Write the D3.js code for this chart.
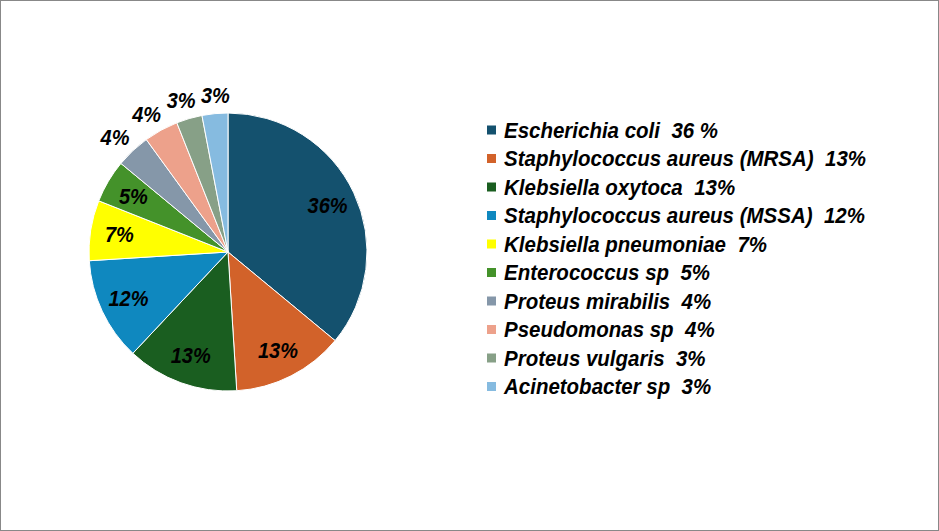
<!DOCTYPE html>
<html><head><meta charset="utf-8">
<script src="https://cdn.jsdelivr.net/npm/d3@7"></script>
<style>
html,body{margin:0;padding:0;background:#fff;}
svg{display:block;font-family:"Liberation Sans",Arial,sans-serif;}
text{white-space:pre;}
</style></head>
<body>
<svg id="chart" width="939" height="531"></svg>
<script>
const categories = ["Escherichia coli","Staphylococcus aureus (MRSA)","Klebsiella oxytoca","Staphylococcus aureus (MSSA)","Klebsiella pneumoniae","Enterococcus sp","Proteus mirabilis","Pseudomonas sp","Proteus vulgaris","Acinetobacter sp"];
const values = [36,13,13,12,7,5,4,4,3,3];
const legendLabels = ["Escherichia coli  36 %","Staphylococcus aureus (MRSA)  13%","Klebsiella oxytoca  13%","Staphylococcus aureus (MSSA)  12%","Klebsiella pneumoniae  7%","Enterococcus sp  5%","Proteus mirabilis  4%","Pseudomonas sp  4%","Proteus vulgaris  3%","Acinetobacter sp  3%"];
const sliceLabels = ["36%","13%","13%","12%","7%","5%","4%","4%","3%","3%"];
const colors = ["#14516e","#d2622a","#1a5e20","#0f88bf","#ffff00","#44922a","#8597a9","#eda18b","#87a087","#86bbe0"];

const svg = d3.select("#chart");
svg.append("rect").attr("x",0.5).attr("y",0.5).attr("width",938).attr("height",530)
  .attr("fill","#fff").attr("stroke","#888").attr("stroke-width",1);

const cx = 228, cy = 252, r = 139;
const g = svg.append("g").attr("transform",`translate(${cx},${cy})`);
const pie = d3.pie().sort(null).value(d=>d);
const arcs = pie(values);
const arc = d3.arc().innerRadius(0).outerRadius(r);
const color = d3.scaleOrdinal().domain(categories).range(colors);

g.selectAll("path.slice").data(arcs).enter().append("path")
  .attr("class","slice")
  .attr("d",arc)
  .attr("fill",(d,i)=>color(categories[i]))
  .attr("stroke","#fff").attr("stroke-width",1);

const inArc = d3.arc().innerRadius(110).outerRadius(110);
const labels = g.selectAll("text.lbl").data(arcs).enter().append("text")
  .attr("class","lbl")
  .attr("text-anchor","middle").attr("dy","0.36em")
  .attr("font-size","20px").attr("font-weight","bold").attr("font-style","italic")
  .attr("fill","#000")
  .text((d,i)=>sliceLabels[i]);

// compute positions
const pos = [];
labels.each(function(d,i){
  const bb = this.getBBox();
  const w = bb.width, h = 15;
  if (values[i] >= 5) {
    const c = inArc.centroid(d);
    pos.push({x:c[0], y:c[1], w, out:false});
  } else {
    const a = (d.startAngle + d.endAngle)/2;
    const R = 150;
    const s = Math.sin(a), c = -Math.cos(a);
    pos.push({x: R*s + w/2*s, y: R*c + h/2*c, w, out:true});
  }
});
// simple de-overlap among outside labels (horizontal push)
for (let iter=0; iter<20; iter++){
  for (let i=0;i<pos.length;i++){
    for (let j=i+1;j<pos.length;j++){
      const a=pos[i], b=pos[j];
      if(!a.out||!b.out) continue;
      if (Math.abs(a.y-b.y) < 16){
        const need = (a.w+b.w)/2 + 5;
        const dx = b.x - a.x;
        if (Math.abs(dx) < need){
          const push = (need-Math.abs(dx))/2;
          const sgn = dx>=0?1:-1;
          a.x -= push*sgn; b.x += push*sgn;
        }
      }
    }
  }
}
labels.attr("transform",(d,i)=>`translate(${pos[i].x},${pos[i].y}) scale(1,1.06)`);

const lg = svg.append("g").attr("transform","translate(487,130)");
const rowH = 28.5;
const items = lg.selectAll("g").data(categories).enter().append("g")
  .attr("transform",(d,i)=>`translate(0,${i*rowH})`);
items.append("rect").attr("x",0).attr("y",-4.5).attr("width",9).attr("height",9)
  .attr("fill",d=>color(d));
items.append("text").attr("x",17).attr("y",0).attr("dy","0.36em")
  .attr("transform","scale(1,1.06)")
  .attr("font-size","20.5px").attr("font-weight","bold").attr("font-style","italic")
  .attr("fill","#000")
  .text((d,i)=>legendLabels[i]);
</script>
</body></html>
